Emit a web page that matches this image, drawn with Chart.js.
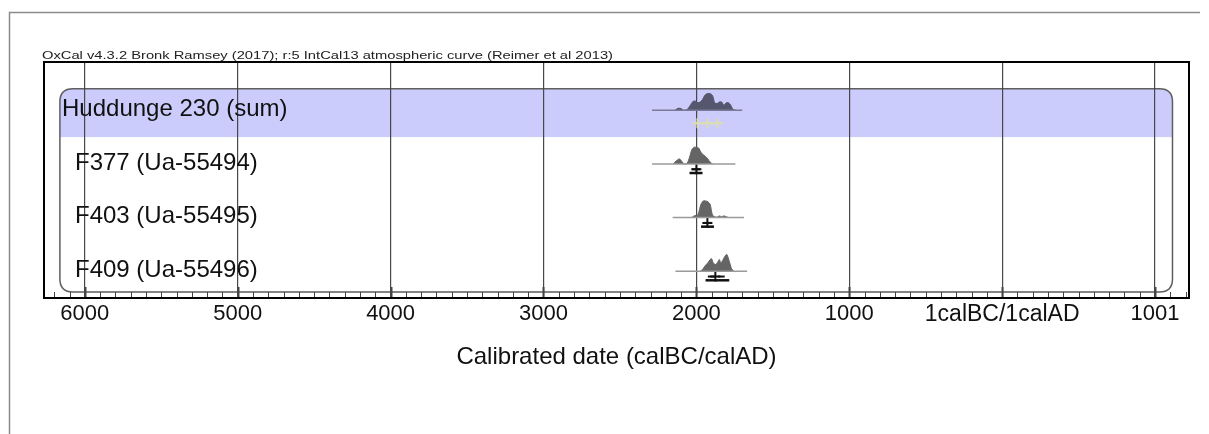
<!DOCTYPE html>
<html>
<head>
<meta charset="utf-8">
<title>OxCal plot</title>
<script src="https://cdn.jsdelivr.net/npm/chart.js@4.4.1/dist/chart.umd.min.js"></script>
<style>
    html, body { margin: 0; padding: 0; background: #ffffff; }
    #wrap { width: 1209px; height: 434px; }
</style>
</head>
<body>
<div id="wrap"><canvas id="oxcal" width="1209" height="434"></canvas></div>
<script>
// Years are calBC as negative numbers, calAD as positive (0 = 1calBC/1calAD)
const headerText = "OxCal v4.3.2 Bronk Ramsey (2017); r:5 IntCal13 atmospheric curve (Reimer et al 2013)";
const axisTitle = "Calibrated date (calBC/calAD)";
const rowNames = ["Huddunge 230 (sum)", "F377 (Ua-55494)", "F403 (Ua-55495)", "F409 (Ua-55496)"];
const rowIndent = [0, 1, 1, 1];

const tickYears = [-6000, -5000, -4000, -3000, -2000, -1000, 0, 1000];
const tickLabels = ["6000", "5000", "4000", "3000", "2000", "1000", "1calBC/1calAD", "1001"];

// thin line under each distribution (start, end)
const lineSpans = [[-2290, -1700], [-2290, -1745], [-2155, -1688], [-2137, -1668]];

// probability distributions (relative height, 1 = tallest)
const hudYears = [-2140, -2120, -2100, -2085, -2060, -2040, -2020, -2005, -1990, -1975, -1960, -1945, -1930, -1910, -1895, -1880, -1865, -1850, -1835, -1820, -1805, -1790, -1775, -1760, -1740];
const hudProb = [0, 0.12, 0.1, 0, 0.05, 0.3, 0.55, 0.55, 0.45, 0.5, 0.65, 0.9, 1, 1, 0.9, 0.45, 0.4, 0.5, 0.5, 0.3, 0.45, 0.45, 0.3, 0.05, 0];

const f377Years = [-2150, -2130, -2110, -2095, -2080, -2060, -2045, -2030, -2015, -2000, -1985, -1970, -1955, -1940, -1925, -1910, -1895];
const f377Prob = [0, 0.2, 0.3, 0.15, 0, 0.05, 0.4, 0.85, 1, 1, 0.95, 0.7, 0.55, 0.45, 0.3, 0.1, 0];

const f403Years = [-2030, -2010, -1995, -1985, -1970, -1955, -1940, -1925, -1910, -1895, -1880, -1865, -1850, -1835, -1820, -1805, -1790];
const f403Prob = [0, 0.12, 0.1, 0.3, 0.8, 1, 1, 0.95, 0.8, 0.15, 0.05, 0.02, 0.1, 0.05, 0.1, 0.05, 0];

const f409Years = [-1975, -1960, -1945, -1925, -1910, -1900, -1890, -1875, -1860, -1850, -1840, -1825, -1810, -1800, -1785, -1770, -1755];
const f409Prob = [0, 0.1, 0.3, 0.5, 0.7, 0.75, 0.5, 0.4, 0.55, 0.7, 0.5, 0.7, 0.95, 1, 0.6, 0.15, 0];

// ranges under each distribution
const range68 = [[[-2026, -1831]], [[-2030, -1975]], [[-1955, -1900]], [[-1925, -1880], [-1860, -1815]]];
const range95 = [[], [[-2045, -1960]], [[-1970, -1885]], [[-1940, -1785]]];
const medians = [[-1993, -1928, -1863], [-2000], [-1928], [-1876]];

const probYears = [hudYears, f377Years, f403Years, f409Years];
const probValues = [hudProb, f377Prob, f403Prob, f409Prob];

const xMin = -6267;
const xMax = 1222;
const peakHeight = 0.31; // in row units
const labelFont = "'Liberation Sans', Arial, sans-serif";

function buildDatasets() {
    const datasets = [];

    for (let r = 0; r < rowNames.length; r++) {
        const pale = r === 0;

        // baseline line
        datasets.push({
            data: lineSpans[r].map((x) => ({ x: x, y: r })),
            borderColor: pale ? "#7a7a98" : "#9a9a9a",
            borderWidth: 1.5,
            pointRadius: 0,
            fill: false,
        });

        // filled distribution
        datasets.push({
            data: probYears[r].map((x, i) => ({ x: x, y: r - peakHeight * probValues[r][i] })),
            borderColor: pale ? "#56566f" : "#656565",
            backgroundColor: pale ? "#56566f" : "#656565",
            borderWidth: 1,
            pointRadius: 0,
            tension: 0.25,
            fill: { value: r },
        });

        // range bars
        for (const span of range68[r]) {
            datasets.push({
                data: span.map((x) => ({ x: x, y: r + (pale ? 0.24 : 0.1) })),
                borderColor: pale ? "#dcdcb4" : "#111111",
                borderWidth: 2,
                pointRadius: 0,
                fill: false,
            });
        }
        for (const span of range95[r]) {
            datasets.push({
                data: span.map((x) => ({ x: x, y: r + 0.17 })),
                borderColor: "#111111",
                borderWidth: 2.5,
                pointRadius: 0,
                fill: false,
            });
        }

        // median crosses
        datasets.push({
            data: medians[r].map((x) => ({ x: x, y: r + (pale ? 0.24 : 0.1) })),
            borderColor: pale ? "#dcdcb4" : "#111111",
            backgroundColor: pale ? "#dcdcb4" : "#111111",
            pointStyle: "cross",
            pointRadius: 5,
            pointBorderWidth: 2,
            showLine: false,
        });
    }
    return datasets;
}

function roundedPath(ctx, x1, y1, x2, y2, rad) {
    ctx.beginPath();
    ctx.moveTo(x1 + rad, y1);
    ctx.lineTo(x2 - rad, y1);
    ctx.quadraticCurveTo(x2, y1, x2, y1 + rad);
    ctx.lineTo(x2, y2 - rad);
    ctx.quadraticCurveTo(x2, y2, x2 - rad, y2);
    ctx.lineTo(x1 + rad, y2);
    ctx.quadraticCurveTo(x1, y2, x1, y2 - rad);
    ctx.lineTo(x1, y1 + rad);
    ctx.quadraticCurveTo(x1, y1, x1 + rad, y1);
    ctx.closePath();
}

// background, outer frame, header and the highlighted group box
const backgroundPlugin = {
    id: "oxcalBackground",
    beforeDraw(chart) {
        const ctx = chart.ctx;
        const xs = chart.scales.x;
        const ys = chart.scales.y;
        ctx.save();
        ctx.fillStyle = "#ffffff";
        ctx.fillRect(0, 0, chart.width, chart.height);

        // outer frame lines
        ctx.strokeStyle = "#8c8c8c";
        ctx.lineWidth = 1.5;
        ctx.beginPath();
        ctx.moveTo(9.5, chart.height);
        ctx.lineTo(9.5, 12.5);
        ctx.lineTo(1200, 12.5);
        ctx.stroke();

        // header text, stretched to the width of the original
        ctx.fillStyle = "#222222";
        ctx.font = "11px " + labelFont;
        ctx.textBaseline = "alphabetic";
        const w = ctx.measureText(headerText).width;
        ctx.translate(chart.chartArea.left - 2, chart.chartArea.top - 3);
        ctx.scale(571 / w, 1);
        ctx.fillText(headerText, 0, 0);
        ctx.restore();

        // group box with the lavender band on the first row
        const bx1 = xs.getPixelForValue(-6163);
        const bx2 = xs.getPixelForValue(1114);
        const by1 = ys.getPixelForValue(-0.4);
        const by2 = ys.getPixelForValue(3.39);
        const bandBottom = ys.getPixelForValue(0.5);
        ctx.save();
        roundedPath(ctx, bx1, by1, bx2, by2, 13);
        ctx.clip();
        ctx.fillStyle = "#ccccfc";
        ctx.fillRect(bx1, by1, bx2 - bx1, bandBottom - by1);
        ctx.restore();

        ctx.save();
        roundedPath(ctx, bx1, by1, bx2, by2, 13);
        ctx.strokeStyle = "#5e5e5e";
        ctx.lineWidth = 1.5;
        ctx.stroke();
        ctx.restore();
    },
};

// plot frame, minor ticks and row names
const overlayPlugin = {
    id: "oxcalOverlay",
    afterDraw(chart) {
        const ctx = chart.ctx;
        const area = chart.chartArea;
        const xs = chart.scales.x;
        const ys = chart.scales.y;
        ctx.save();

        // ticks along the bottom axis, every 100 years
        ctx.strokeStyle = "#444444";
        for (let yr = -6200; yr <= 1200; yr += 100) {
            const px = Math.round(xs.getPixelForValue(yr)) + 0.5;
            const major = yr % 1000 === 0;
            ctx.lineWidth = major ? 2 : 1;
            ctx.beginPath();
            ctx.moveTo(px, area.bottom);
            ctx.lineTo(px, area.bottom - (major ? 11 : 6));
            ctx.stroke();
        }

        // frame around the plot
        ctx.strokeStyle = "#000000";
        ctx.lineWidth = 2;
        ctx.strokeRect(area.left, area.top, area.right - area.left, area.bottom - area.top);

        // row names
        ctx.fillStyle = "#111111";
        ctx.font = "24px " + labelFont;
        ctx.textBaseline = "middle";
        ctx.textAlign = "left";
        for (let r = 0; r < rowNames.length; r++) {
            const px = rowIndent[r] ? 75 : 62;
            ctx.fillText(rowNames[r], px, ys.getPixelForValue(r) - 1);
        }
        ctx.restore();
    },
};

document.addEventListener("DOMContentLoaded", function () {
    const ctx = document.getElementById("oxcal").getContext("2d");

    new Chart(ctx, {
        type: "line",
        data: { datasets: buildDatasets() },
        options: {
            responsive: false,
            animation: false,
            layout: { padding: { left: 44, right: 20, top: 62, bottom: 0 } },
            plugins: {
                legend: { display: false },
                tooltip: { enabled: false },
            },
            scales: {
                x: {
                    type: "linear",
                    min: xMin,
                    max: xMax,
                    afterBuildTicks: (scale) => {
                        scale.ticks = tickYears.map((v) => ({ value: v }));
                    },
                    afterFit: (scale) => {
                        scale.height = 136;
                    },
                    grid: { color: "#484848", lineWidth: 1.2, drawTicks: false },
                    border: { display: false },
                    ticks: {
                        autoSkip: false,
                        maxRotation: 0,
                        padding: 3,
                        color: "#111111",
                        font: (c) => ({ family: labelFont, size: c.index === 6 ? 23 : 22 }),
                        callback: (value) => tickLabels[tickYears.indexOf(value)],
                    },
                    title: {
                        display: true,
                        text: axisTitle,
                        color: "#111111",
                        font: { family: labelFont, size: 24 },
                        padding: { top: 0, bottom: 62 },
                    },
                },
                y: {
                    type: "linear",
                    display: false,
                    reverse: true,
                    min: -0.9,
                    max: 3.5,
                },
            },
        },
        plugins: [backgroundPlugin, overlayPlugin],
    });
});
</script>
</body>
</html>
